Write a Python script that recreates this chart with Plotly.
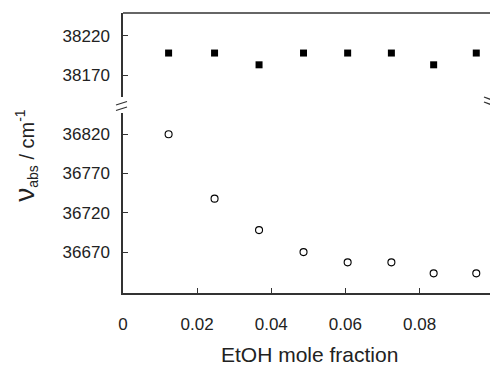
import plotly.graph_objects as go

# Data
ethanol_fraction = [0.0123, 0.0247, 0.0367, 0.0487, 0.0606, 0.0724, 0.0838, 0.0953]
nu_high = [38198, 38198, 38183, 38198, 38198, 38198, 38183, 38198]
nu_low = [36820, 36738, 36698, 36670, 36657, 36657, 36643, 36643]

x_tickvals = [0, 0.02, 0.04, 0.06, 0.08]
x_ticktext = ["0", "0.02", "0.04", "0.06", "0.08"]
y_low_ticks = [36670, 36720, 36770, 36820]
y_high_ticks = [38170, 38220]

axis_color = "#333333"
text_color = "#222222"
font_family = "Liberation Sans, Arial, sans-serif"

fig = go.Figure()
fig.add_trace(go.Scatter(
    x=ethanol_fraction, y=nu_high, mode="markers", yaxis="y2",
    marker=dict(symbol="square", size=7, color="black"), showlegend=False))
fig.add_trace(go.Scatter(
    x=ethanol_fraction, y=nu_low, mode="markers", yaxis="y",
    marker=dict(symbol="circle-open", size=7, color="black", line=dict(width=1.1)),
    showlegend=False))

common_y = dict(showgrid=False, zeroline=False, showline=True, linecolor=axis_color,
                linewidth=1.5, ticks="inside", ticklen=5, tickcolor=axis_color,
                tickwidth=1, tickfont=dict(size=17, color=text_color, family=font_family),
                ticklabelstandoff=8, automargin=False, tickformat="d")

fig.update_layout(
    width=490, height=367,
    margin=dict(l=123, r=0, t=13, b=74, autoexpand=False),
    paper_bgcolor="white", plot_bgcolor="white",
    font=dict(family=font_family, color=text_color),
    xaxis=dict(range=[0, 0.099], showgrid=False, zeroline=False, showline=True,
               linecolor=axis_color, linewidth=1.5, ticks="inside", ticklen=5,
               tickcolor=axis_color, tickvals=x_tickvals, ticktext=x_ticktext,
               tickfont=dict(size=17, color=text_color, family=font_family),
               ticklabelstandoff=15, automargin=False, anchor="y"),
    yaxis=dict(domain=[0, 0.643], range=[36618, 36847], tickvals=y_low_ticks,
               ticktext=[str(v) for v in y_low_ticks], **common_y),
    yaxis2=dict(domain=[0.7, 1], range=[38142, 38249], tickvals=y_high_ticks,
                ticktext=[str(v) for v in y_high_ticks], **common_y),
    shapes=[
        # top frame line
        dict(type="line", xref="paper", yref="paper", x0=0, x1=1, y0=1, y1=1,
             line=dict(color=axis_color, width=1.5)),
        # left break marks
        dict(type="line", xref="paper", yref="paper", x0=-7/366, x1=4/366,
             y0=(293-105)/280, y1=(293-101.5)/280, line=dict(color=axis_color, width=1.3)),
        dict(type="line", xref="paper", yref="paper", x0=-7/366, x1=4/366,
             y0=(293-110.5)/280, y1=(293-107)/280, line=dict(color=axis_color, width=1.3)),
        # right break marks
        dict(type="line", xref="paper", yref="paper", x0=1-6/366, x1=1 + 2/366,
             y0=(293-97)/280, y1=(293-100)/280, line=dict(color=axis_color, width=1.3)),
        dict(type="line", xref="paper", yref="paper", x0=1-6/366, x1=1 + 2/366,
             y0=(293-102)/280, y1=(293-105)/280, line=dict(color=axis_color, width=1.3)),
    ],
    annotations=[
        dict(text='<span style="font-size:28px">ν</span><sub>abs</sub> / cm<sup>-1</sup>',
             xref="paper", yref="paper", x=(25-123)/366, y=(293-155)/280,
             xanchor="center", yanchor="middle", textangle=-90, showarrow=False,
             font=dict(size=20, color=text_color, family=font_family)),
        dict(text="EtOH mole fraction", xref="paper", yref="paper",
             x=(309-123)/366, y=(293-354)/280, xanchor="center", yanchor="middle",
             showarrow=False, font=dict(size=21, color=text_color, family=font_family)),
    ],
)

fig.write_html("out.html", config={"displayModeBar": False},
               post_script="document.body.style.margin='0';")
